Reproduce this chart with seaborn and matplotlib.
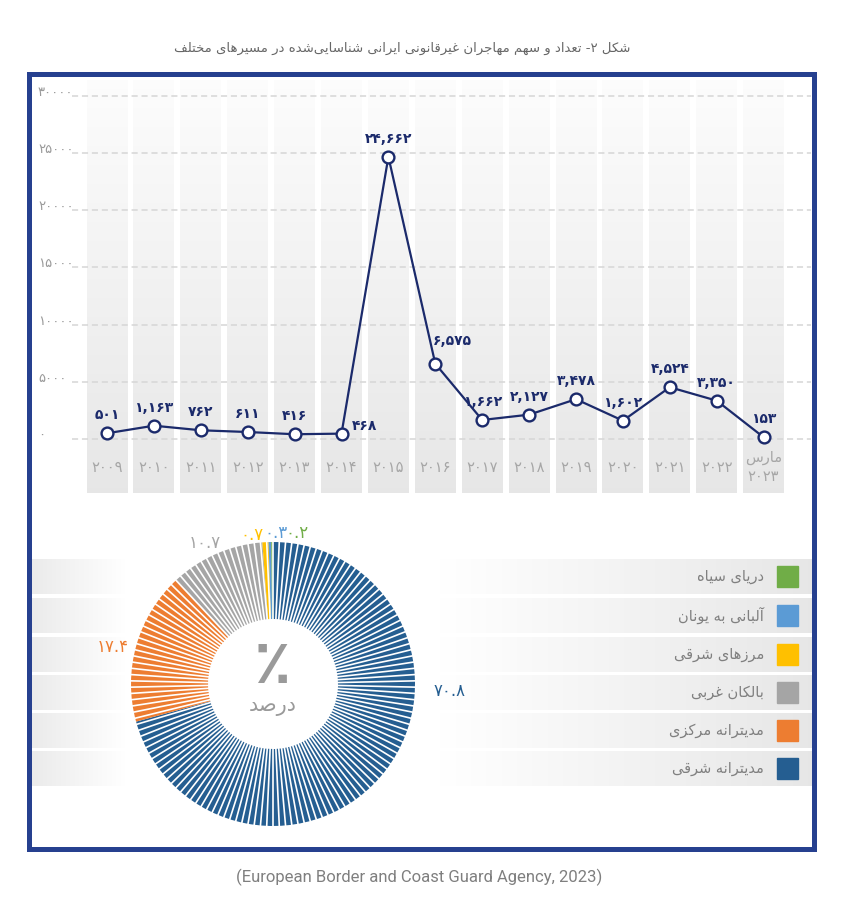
import numpy as np
import matplotlib
matplotlib.use("Agg")
import matplotlib.pyplot as plt
from matplotlib.patches import Rectangle
from matplotlib.collections import LineCollection
import seaborn as sns

# ---- data ----
years = ["2009", "2010", "2011", "2012", "2013", "2014", "2015", "2016",
         "2017", "2018", "2019", "2020", "2021", "2022", "مارس\n2023"]
counts = [501, 1163, 762, 611, 416, 468, 24662, 6575, 1662, 2127, 3478,
          1602, 4524, 3350, 153]
yticks = [0, 5000, 10000, 15000, 20000, 25000, 30000]

# pie order: clockwise from 12 o'clock
routes = ["مدیترانه شرقی", "مدیترانه مرکزی", "بالکان غربی", "مرزهای شرقی",
          "آلبانی به یونان", "دریای سیاه"]
shares = [70.8, 17.4, 10.7, 0.7, 0.3, 0.2]
route_colors = ["#255e91", "#ed7d31", "#a5a5a5", "#ffc000", "#5b9bd5", "#70ad47"]

title = "شکل ۲- تعداد و سهم مهاجران غیرقانونی ایرانی شناسایی\u200cشده در مسیرهای مختلف"
source = "(European Border and Coast Guard Agency, 2023)"
center_sign = "\u066a"
center_word = "درصد"

# ---- minimal persian shaping (matplotlib has no RTL / joining support) ----
DUAL = {"\u0628": 0xFE8F, "\u067E": 0xFB56, "\u062A": 0xFE95, "\u062B": 0xFE99,
        "\u062C": 0xFE9D, "\u0686": 0xFB7A, "\u062D": 0xFEA1, "\u062E": 0xFEA5,
        "\u0633": 0xFEB1, "\u0634": 0xFEB5, "\u0635": 0xFEB9, "\u0636": 0xFEBD,
        "\u0637": 0xFEC1, "\u0638": 0xFEC5, "\u0639": 0xFEC9, "\u063A": 0xFECD,
        "\u0641": 0xFED1, "\u0642": 0xFED5, "\u06A9": 0xFB8E, "\u06AF": 0xFB92,
        "\u0644": 0xFEDD, "\u0645": 0xFEE1, "\u0646": 0xFEE5, "\u0647": 0xFEE9,
        "\u06CC": 0xFBFC}
RIGHT = {"\u0627": 0xFE8D, "\u0622": 0xFE81, "\u062F": 0xFEA9, "\u0630": 0xFEAB,
         "\u0631": 0xFEAD, "\u0632": 0xFEAF, "\u0698": 0xFB8A, "\u0648": 0xFEED}


def fa_num(s):
    return s.translate(str.maketrans("0123456789", "۰۱۲۳۴۵۶۷۸۹"))


def fa(text):
    lines = []
    for line in fa_num(text).split("\n"):
        chars = list(line)
        shaped = []
        for i, c in enumerate(chars):
            prev = chars[i - 1] if i > 0 else ""
            nxt = chars[i + 1] if i + 1 < len(chars) else ""
            jp = prev in DUAL and (c in DUAL or c in RIGHT)
            jn = c in DUAL and (nxt in DUAL or nxt in RIGHT)
            if c in DUAL:
                shaped.append(chr(DUAL[c] + (1 if jp else 0) + (2 if jn else 0)))
            elif c in RIGHT:
                shaped.append(chr(RIGHT[c] + (1 if jp else 0)))
            elif c == "\u200c":
                continue
            else:
                shaped.append(c)
        if any(ch in DUAL or ch in RIGHT for ch in chars):
            shaped = shaped[::-1]
        lines.append("".join(shaped))
    return "\n".join(lines)


sns.set_style("white")
plt.rcParams["font.family"] = ["DejaVu Sans"]

W, H = 863, 897
navy = "#1b2a6b"


def box(l, t, r, b):
    return [l / W, 1 - b / H, (r - l) / W, (b - t) / H]


fig = plt.figure(figsize=(W / 100, H / 100), dpi=100)

# background layer in pixel coordinates
bg = fig.add_axes([0, 0, 1, 1])
bg.axis("off")

row_x = np.arange(31, 812)
row_v = np.interp(row_x, [31, 125, 440, 811], [0.92, 1.0, 1.0, 0.905])
row_img = np.repeat(row_v[None, :, None], 3, axis=2)
row_tops = [559, 598, 637, 675, 713, 751]
for j, top in enumerate(row_tops):
    bg.imshow(row_img, extent=[31, 811, top + 35, top], aspect="auto",
              interpolation="bilinear", zorder=0)
    k = len(routes) - 1 - j
    bg.add_patch(Rectangle((777, top + 7), 21, 21, color=route_colors[k], zorder=2))
    bg.text(764, top + 17, fa(routes[k]), ha="right", va="center",
            fontsize=10.5, color="#808080", zorder=2)

bg.add_patch(Rectangle((28.5, 74.5), 785, 775, fill=False, edgecolor="#26408f",
                       linewidth=3.6, zorder=3))
bg.text(402, 48, fa(title), ha="center", va="center", fontsize=9.5, color="#666666")
bg.text(419, 877, source, ha="center", va="center", fontsize=12, color="#7f7f7f",
        family=["Roboto", "DejaVu Sans"])
bg.set_xlim(0, W)
bg.set_ylim(H, 0)

# ---- line chart ----
ax = fig.add_axes(box(31, 77, 811, 500))
ax.patch.set_alpha(0)
xs = np.arange(len(counts))
x0, dx = 107, 46.9          # pixel position of first column, column pitch
y0, dy = 439, 0.011443      # pixel of zero line, pixels per unit


def xd(px):
    return (px - x0) / dx


def yd(py):
    return (y0 - py) / dy


grad = np.linspace(0.99, 0.905, 256)
col_img = np.repeat(grad[:, None, None], 3, axis=2)
for i in xs:
    ax.imshow(col_img, extent=[i - 0.437, i + 0.437, yd(493), yd(80)],
              aspect="auto", interpolation="bilinear", zorder=0)

for v in yticks:
    ax.axhline(v, xmin=(72 - 31) / 780, xmax=1, color="#d6d6d6", lw=1.1,
               ls=(0, (4, 2.5)), zorder=1)
    ax.text(xd(38), v + 300, fa_num(str(v)), ha="left", va="center",
            fontsize=9.5, color="#9a9a9a")

sns.lineplot(x=xs, y=counts, ax=ax, color=navy, lw=1.6, marker="o",
             markersize=8.5, markerfacecolor="white", markeredgecolor=navy,
             markeredgewidth=1.7, zorder=3)

special = {5: (10, 8, "left"), 7: (-2, 23, "left")}
for i, v in enumerate(counts):
    ox, oy, ha = special.get(i, (0, 18, "center"))
    ax.annotate(fa_num(f"{v:,}"), (i, v), xytext=(ox, oy), textcoords="offset pixels",
                ha=ha, va="center", fontsize=10, fontweight="bold", color=navy, zorder=4)

for i, lab in enumerate(years):
    ax.text(i, yd(467), fa(lab), ha="center", va="center", fontsize=10.5,
            color="#a6a6a6", linespacing=1.4)

ax.set_xlim(xd(31), xd(811))
ax.set_ylim(yd(500), yd(77))
ax.axis("off")

# ---- donut ----
cx, cy, R, r = 273, 684, 142, 65
dax = fig.add_axes(box(cx - 150, cy - 150, cx + 150, cy + 150))
dax.pie(shares, colors=route_colors, startangle=90, counterclock=False,
        radius=R / 150, wedgeprops=dict(width=(R - r) / 150, linewidth=0))
n_stripes = 142
ang = np.deg2rad(90 - np.arange(n_stripes) * 360 / n_stripes)
segs = [[((r - 2) / 150 * np.cos(a), (r - 2) / 150 * np.sin(a)),
         ((R + 2) / 150 * np.cos(a), (R + 2) / 150 * np.sin(a))] for a in ang]
dax.add_collection(LineCollection(segs, colors="white", linewidths=1.2,
                                  capstyle="butt", zorder=3))
dax.text(0, (cy - 666) / 150, center_sign, ha="center", va="center", fontsize=44,
         fontweight="bold", color="#9a9a9a")
dax.text(0, (cy - 706) / 150, fa(center_word), ha="center", va="center",
         fontsize=15, color="#9a9a9a")
dax.set_xlim(-1, 1)
dax.set_ylim(-1, 1)
dax.set_aspect("equal")
dax.axis("off")

label_pos = [(450, 691), (113, 647), (205, 543), (252, 535), (276, 533), (297, 533)]
for (lx, ly), s, c in zip(label_pos, shares, route_colors):
    bg.text(lx, ly, fa_num(f"{s}"), ha="center", va="center", fontsize=12, color=c)

fig.savefig("out.png", dpi=100)
